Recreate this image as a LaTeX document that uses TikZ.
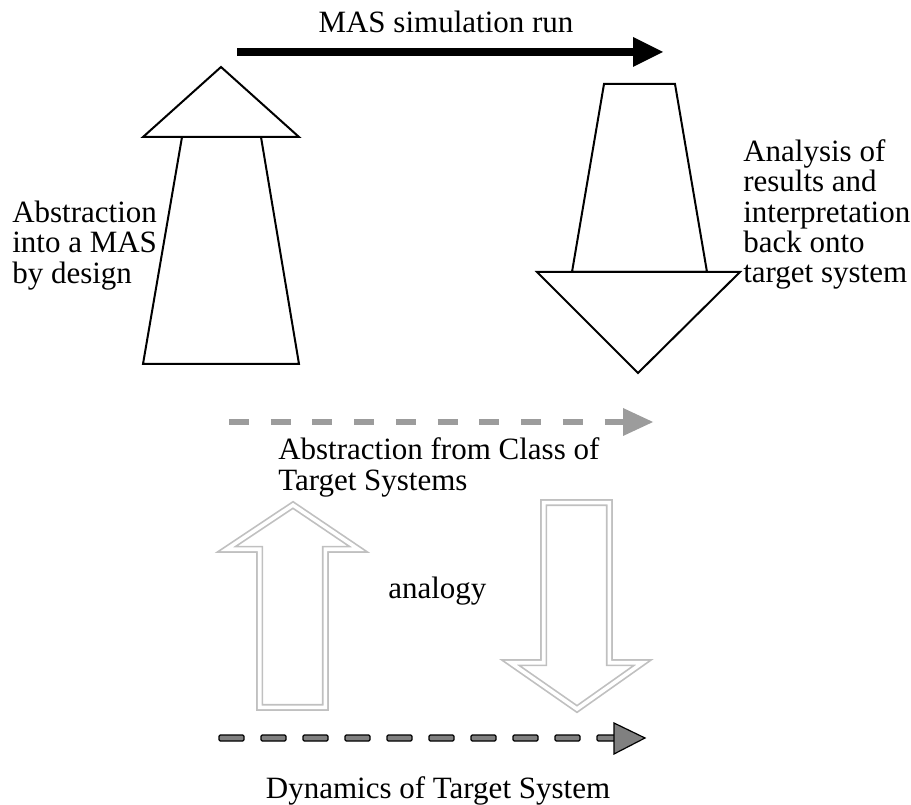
\documentclass[tikz,border=0pt]{standalone}
\usepackage{fontspec}
\setmainfont{Liberation Serif}
\begin{document}
\begin{tikzpicture}[x=0.75pt,y=-0.75pt,font=\fontsize{23.25}{23}\selectfont,
  outline/.style={black,line width=1.5pt,line join=miter},
  hollow/.style={draw=hollowgrey,line width=1.3pt,double=white,double distance=2.7pt,line join=miter},
  textline/.style={anchor=base west,inner sep=0pt}]
\definecolor{hollowgrey}{HTML}{C0C0C0}
\definecolor{classgrey}{HTML}{9C9C9C}
\definecolor{dynamicsgrey}{HTML}{808080}
\useasboundingbox (0,0) rectangle (911,805);
\node[anchor=base,inner sep=0pt] (simrun) at (446,33) {MAS simulation run};
\fill[black] (237,48) rectangle (633,56);
\fill[black] (633,37) -- (663,52) -- (633,67) -- cycle;
\draw[outline] (143,137) -- (221,67) -- (299,137) -- cycle;
\draw[outline] (182,137) -- (143,364) -- (299,364) -- (261,137);
\node[textline] (design1) at (12,223) {Abstraction};
\node[textline] (design2) at (12,253) {into a MAS};
\node[textline] (design3) at (12,284) {by design};
\draw[outline] (604,84) -- (675,84) -- (707,272) -- (572,272) -- cycle;
\draw[outline] (537,272) -- (740,272) -- (638,373) -- cycle;
\node[textline] (analysis1) at (743,162) {Analysis of};
\node[textline] (analysis2) at (743,192) {results and};
\node[textline] (analysis3) at (743,223) {interpretation};
\node[textline] (analysis4) at (743,253) {back onto};
\node[textline] (analysis5) at (743,283) {target system};
\draw[classgrey,line width=4.5pt,dash pattern=on 15pt off 16.3pt] (229,422) -- (623,422);
\fill[classgrey] (623,408) -- (653,422) -- (623,436) -- cycle;
\node[textline] (class1) at (278,460) {Abstraction from Class of};
\node[textline] (class2) at (278,491) {Target Systems};
\draw[hollow] (293,505) -- (358.5,549.3) -- (325.3,549.3) -- (325.3,707.3)
  -- (259.7,707.3) -- (259.7,549.3) -- (226.5,549.3) -- cycle;
\draw[hollow] (543.7,502.7) -- (609.3,502.7) -- (609.3,662.7) -- (642.5,662.7)
  -- (577,709) -- (510.5,662.7) -- (543.7,662.7) -- cycle;
\node[textline] (analogy) at (388,599) {analogy};
\foreach \k in {0,...,9}
  \draw[black,line width=0.9pt,fill=dynamicsgrey,rounded corners=1pt] ({219+42*\k},735) rectangle ({244+42*\k},741);
\draw[black,line width=0.9pt,fill=dynamicsgrey,line join=miter] (614,723) -- (645,738) -- (614,754) -- cycle;
\node[anchor=base,inner sep=0pt] (dynamics) at (438,798) {Dynamics of Target System};
\end{tikzpicture}
\end{document}
